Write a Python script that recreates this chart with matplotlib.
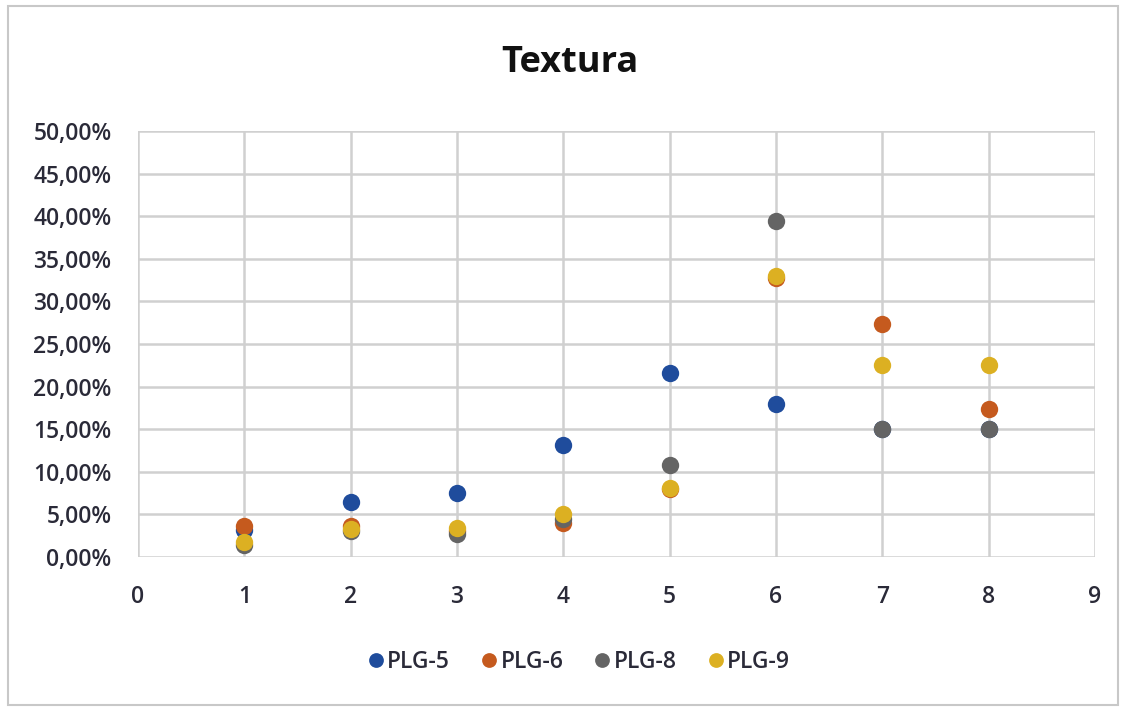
import matplotlib
matplotlib.use("Agg")
import matplotlib.pyplot as plt
from matplotlib.ticker import FuncFormatter, MultipleLocator
from matplotlib.patches import Rectangle

x_vals = [1, 2, 3, 4, 5, 6, 7, 8]
plg5 = [3.2, 6.4, 7.5, 13.2, 21.6, 18.0, 15.0, 15.0]
plg6 = [3.6, 3.6, 3.0, 4.0, 8.0, 32.7, 27.4, 17.4]
plg8 = [1.4, 3.0, 2.7, 4.5, 10.8, 39.4, 15.0, 15.0]
plg9 = [1.8, 3.3, 3.4, 5.0, 8.1, 33.0, 22.5, 22.5]
series_names = ["PLG-5", "PLG-6", "PLG-8", "PLG-9"]
colors = ["#1f4c9c", "#c55a1e", "#646464", "#dcb022"]

plt.rcParams['font.family'] = ['Open Sans', 'DejaVu Sans']

fig = plt.figure(figsize=(11.26, 7.10), dpi=100)
ax = fig.add_axes([138/1126, 1-557/710, (1095-138)/1126, (557-131)/710])

for name, ys, c in zip(series_names, [plg5, plg6, plg8, plg9], colors):
    ax.plot(x_vals, ys, linestyle='none', marker='o', markersize=12.5,
            color=c, markeredgewidth=0, label=name, zorder=3)

ax.set_xlim(0, 9)
ax.set_ylim(0, 50)
ax.xaxis.set_major_locator(MultipleLocator(1))
ax.yaxis.set_major_locator(MultipleLocator(5))
ax.yaxis.set_major_formatter(FuncFormatter(lambda v, p: f"{v:.2f}".replace('.', ',') + "%"))
ax.grid(True, color='#d0d0d0', linewidth=1.8, zorder=0)
for s in ax.spines.values():
    s.set_visible(False)
ax.tick_params(axis='y', length=0, labelsize=16.5, colors='#2a2a38', pad=19)
ax.tick_params(axis='x', length=0, labelsize=16.5, colors='#2a2a38', pad=20)
for lab in ax.get_xticklabels() + ax.get_yticklabels():
    lab.set_fontweight('semibold')

fig.text(570/1126, 1-63/710, "Textura", ha='center', va='center',
         fontsize=26, fontweight='bold', color='#111111')

leg = fig.legend(loc='center', bbox_to_anchor=(576/1126, 1-662/710), ncol=4,
                 frameon=False, fontsize=16.5, handletextpad=-0.1, columnspacing=1.1,
                 markerscale=0.85, handlelength=1.2)
for t in leg.get_texts():
    t.set_color('#2a2a38')
    t.set_fontweight('semibold')

fig.patches.append(Rectangle((8/1126, 1-705/710), (1118-8)/1126, (705-6)/710,
                             transform=fig.transFigure, fill=False,
                             edgecolor='#c8c8c8', linewidth=1.5))

fig.savefig("out.png", dpi=100, facecolor='white')
